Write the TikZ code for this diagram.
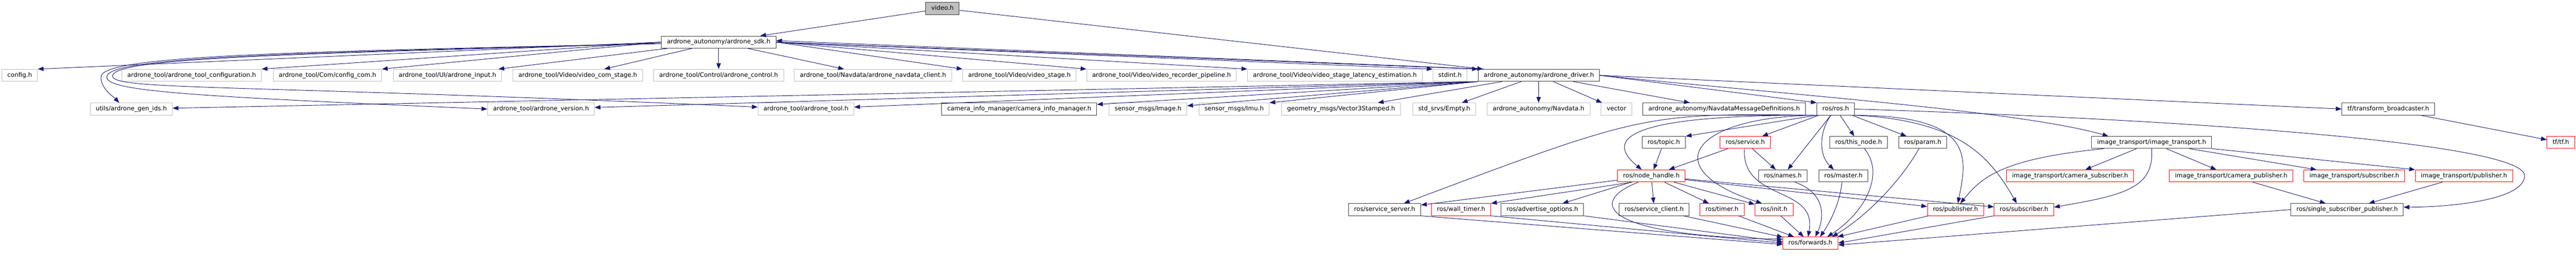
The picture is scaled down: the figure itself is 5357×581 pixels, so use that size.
\documentclass[tikz,border=0pt]{standalone}
\usepackage{fontspec}
\setmainfont{DejaVu Sans}
\usetikzlibrary{arrows.meta}
\definecolor{edgeblue}{HTML}{191970}
\definecolor{extgray}{HTML}{BFBFBF}
\definecolor{docgray}{HTML}{404040}
\begin{document}
\begin{tikzpicture}[x=1pt, y=-1pt,
    every node/.style = {shape=rectangle, draw, line width=1pt, fill=white, inner xsep=11.5pt, inner ysep=0pt,
                         minimum height=25pt, text height=9.5pt, text depth=3pt, font=\fontsize{12.75}{15}\selectfont},
    extfile/.style = {draw=extgray},
    docfile/.style = {draw=docgray},
    cutfile/.style = {draw=red},
    rootfile/.style = {draw=docgray, fill=extgray},
    incl/.style = {draw=edgeblue, line width=1pt, -{Triangle[length=12pt, width=9pt]}}]
    \useasboundingbox (0,0) rectangle (5357,581);

    \node[rootfile] (video) at (1960,17.5) {video.h};
    \node[docfile] (sdk) at (1494.5,87.5) {ardrone\_autonomy/ardrone\_sdk.h};

    \node[extfile] (config) at (41,156.5) {config.h};
    \node[extfile] (toolconf) at (398.5,156.5) {ardrone\_tool/ardrone\_tool\_configuration.h};
    \node[extfile] (configcom) at (681,156.5) {ardrone\_tool/Com/config\_com.h};
    \node[extfile] (uiinput) at (930.5,156.5) {ardrone\_tool/UI/ardrone\_input.h};
    \node[extfile] (comstage) at (1201.5,156.5) {ardrone\_tool/Video/video\_com\_stage.h};
    \node[extfile] (control) at (1494.5,156.5) {ardrone\_tool/Control/ardrone\_control.h};
    \node[extfile] (navclient) at (1815.5,156.5) {ardrone\_tool/Navdata/ardrone\_navdata\_client.h};
    \node[extfile] (vstage) at (2120,156.5) {ardrone\_tool/Video/video\_stage.h};
    \node[extfile] (recpipe) at (2415.5,156.5) {ardrone\_tool/Video/video\_recorder\_pipeline.h};
    \node[extfile] (latency) at (2776,156.5) {ardrone\_tool/Video/video\_stage\_latency\_estimation.h};
    \node[extfile] (stdint) at (3015.5,156.5) {stdint.h};
    \node[docfile] (driver) at (3200,156.5) {ardrone\_autonomy/ardrone\_driver.h};

    \node[extfile] (genids) at (273,226.5) {utils/ardrone\_gen\_ids.h};
    \node[extfile] (version) at (1125,226.5) {ardrone\_tool/ardrone\_version.h};
    \node[extfile] (tool) at (1676,226.5) {ardrone\_tool/ardrone\_tool.h};
    \node[docfile] (caminfo) at (2119.5,226.5) {camera\_info\_manager/camera\_info\_manager.h};
    \node[extfile] (image) at (2387.5,226.5) {sensor\_msgs/Image.h};
    \node[extfile] (imu) at (2566.5,226.5) {sensor\_msgs/Imu.h};
    \node[extfile] (vec3) at (2789,226.5) {geometry\_msgs/Vector3Stamped.h};
    \node[extfile] (empty) at (3003.5,226.5) {std\_srvs/Empty.h};
    \node[extfile] (navdata) at (3199.5,226.5) {ardrone\_autonomy/Navdata.h};
    \node[extfile] (vector) at (3361.5,226.5) {vector};
    \node[docfile] (navmsgdefs) at (3585.5,226.5) {ardrone\_autonomy/NavdataMessageDefinitions.h};
    \node[docfile] (ros) at (3817.5,226.5) {ros/ros.h};
    \node[docfile] (tfbroad) at (4966.5,226.5) {tf/transform\_broadcaster.h};

    \node[docfile] (topic) at (3460,296) {ros/topic.h};
    \node[cutfile] (service) at (3629.5,296) {ros/service.h};
    \node[docfile] (thisnode) at (3865,296) {ros/this\_node.h};
    \node[docfile] (param) at (3998.5,296) {ros/param.h};
    \node[docfile] (itrans) at (4474.5,296) {image\_transport/image\_transport.h};
    \node[cutfile] (tf) at (5325.5,296) {tf/tf.h};

    \node[cutfile] (nodehandle) at (3434,365.5) {ros/node\_handle.h};
    \node[docfile] (names) at (3707.5,365.5) {ros/names.h};
    \node[docfile] (master) at (3833.5,365.5) {ros/master.h};
    \node[cutfile] (camsub) at (4305,365.5) {image\_transport/camera\_subscriber.h};
    \node[cutfile] (campub) at (4640,365.5) {image\_transport/camera\_publisher.h};
    \node[cutfile] (itsub) at (4896,365.5) {image\_transport/subscriber.h};
    \node[cutfile] (itpub) at (5124,365.5) {image\_transport/publisher.h};

    \node[docfile] (srvserver) at (2879.5,435.5) {ros/service\_server.h};
    \node[cutfile] (walltimer) at (3038.5,435.5) {ros/wall\_timer.h};
    \node[docfile] (advopts) at (3207.5,435.5) {ros/advertise\_options.h};
    \node[docfile] (srvclient) at (3440,435.5) {ros/service\_client.h};
    \node[cutfile] (timer) at (3581,435.5) {ros/timer.h};
    \node[cutfile] (init) at (3689,435.5) {ros/init.h};
    \node[cutfile] (publisher) at (4066.5,435.5) {ros/publisher.h};
    \node[cutfile] (subscriber) at (4209,435.5) {ros/subscriber.h};
    \node[docfile] (ssp) at (4881,435.5) {ros/single\_subscriber\_publisher.h};

    \node[cutfile] (forwards) at (3765,505) {ros/forwards.h};

    \draw[incl] (video) -- (sdk);
    \draw[incl] (video) -- (driver);

    \draw[incl] (sdk.west) -- (config.north east);
    \draw[incl] (sdk.west) -- (toolconf.north east);
    \draw[incl] (sdk.west) -- (configcom.north east);
    \draw[incl] (sdk) -- (uiinput);
    \draw[incl] (sdk) -- (comstage);
    \draw[incl] (sdk) -- (control);
    \draw[incl] (sdk) -- (navclient);
    \draw[incl] (sdk.east) -- (vstage.north west);
    \draw[incl] (sdk.east) -- (recpipe.north west);
    \draw[incl] (sdk.east) -- (latency.north west);
    \draw[incl] (sdk.east) -- (stdint.north west);
    \draw[incl] (sdk.east) -- (driver.north west);
    \draw[incl] ([yshift=-3pt]sdk.west) .. controls (600,108) and (210,115) .. (210,160)
        .. controls (210,185) and (235,200) .. ([xshift=-25pt]genids.north);
    \draw[incl] ([yshift=-3pt]sdk.west) .. controls (600,110) and (222,118) .. (222,160)
        .. controls (222,190) and (400,200) .. (version.west);
    \draw[incl] ([yshift=-3pt]sdk.west) .. controls (600,112) and (234,120) .. (234,158)
        .. controls (234,188) and (500,175) .. ([yshift=4pt]tool.west);

    \draw[incl] ([xshift=12pt]driver.north west) -- ([yshift=3pt]sdk.east);
    \draw[incl] (driver.south west) -- (genids);
    \draw[incl] (driver.south west) -- (version);
    \draw[incl] (driver.south west) -- (tool);
    \draw[incl] (driver.south west) -- (caminfo);
    \draw[incl] (driver.south west) -- (image);
    \draw[incl] (driver.south west) -- (imu.north east);
    \draw[incl] (driver) -- (vec3);
    \draw[incl] (driver) -- (empty);
    \draw[incl] (driver) -- (navdata);
    \draw[incl] (driver) -- (vector);
    \draw[incl] (driver) -- (navmsgdefs);
    \draw[incl] (driver.east) -- (ros.north west);
    \draw[incl] (driver.east) .. controls (3700,195) and (4200,230) .. ([xshift=-90pt]itrans.north);
    \draw[incl] (driver.east) -- (tfbroad.west);

    \draw[incl] (ros.south west) -- (topic.north east);
    \draw[incl] (ros.south west) .. controls (3340,238) and (3350,300) .. ([xshift=-20pt]nodehandle.north);
    \draw[incl] (ros.south west) .. controls (3420,235) .. ([xshift=40pt]srvserver.north);
    \draw[incl] (ros) -- (service);
    \draw[incl] (ros) -- (names);
    \draw[incl] ([xshift=-10pt]ros.south) .. controls (3785,270) and (3780,320) .. ([xshift=-20pt]master.north);
    \draw[incl] (ros) -- (thisnode);
    \draw[incl] (ros) -- (param);
    \draw[incl] (ros.south west) .. controls (3520,242) and (3440,350) .. ([xshift=-25pt]init.north);
    \draw[incl] (ros.south east) .. controls (4110,240) and (4090,330) .. ([xshift=5pt]publisher.north);
    \draw[incl] (ros.south east) .. controls (4080,250) and (4140,330) .. ([xshift=-15pt]subscriber.north);
    \draw[incl] (ros.east) .. controls (4600,250) and (5250,300) .. (5250,365)
        .. controls (5250,415) and (5100,430) .. ([yshift=5pt]ssp.east);

    \draw[incl] (topic) -- (nodehandle);
    \draw[incl] (service) -- (nodehandle);
    \draw[incl] (service) -- (names);
    \draw[incl] ([xshift=-2pt]service.south) .. controls (3622,420) and (3780,385) .. ([xshift=-5pt]forwards.north);
    \draw[incl] ([xshift=25pt]names.south) .. controls (3795,400) and (3795,450) .. ([xshift=10pt]forwards.north);
    \draw[incl] ([xshift=-3pt]master.south) .. controls (3825,430) and (3800,470) .. ([xshift=20pt]forwards.north);
    \draw[incl] ([xshift=12pt]thisnode.south) .. controls (3920,360) and (3880,440) .. ([xshift=35pt]forwards.north);
    \draw[incl] ([xshift=-8pt]param.south) .. controls (3950,380) and (3880,450) .. ([xshift=45pt]forwards.north);

    \draw[incl] (nodehandle) -- (srvserver);
    \draw[incl] ([xshift=-40pt]nodehandle.south) -- (walltimer.north east);
    \draw[incl] (nodehandle) -- (advopts);
    \draw[incl] (nodehandle) -- (srvclient);
    \draw[incl] (nodehandle) -- (timer);
    \draw[incl] (nodehandle) -- (init);
    \draw[incl] (nodehandle) -- (publisher);
    \draw[incl] (nodehandle) -- (subscriber);
    \draw[incl] ([xshift=-27pt]nodehandle.south) .. controls (3300,420) and (3330,490) .. ([yshift=8pt]forwards.west);

    \draw[incl] (srvserver.south east) -- ([yshift=-3pt]forwards.west);
    \draw[incl] (walltimer.south east) -- (forwards.west);
    \draw[incl] (advopts.south east) -- ([yshift=3pt]forwards.west);
    \draw[incl] (srvclient) -- (forwards);
    \draw[incl] (timer) -- (forwards);
    \draw[incl] (init) -- (forwards);
    \draw[incl] (publisher) -- (forwards);
    \draw[incl] (subscriber.south west) -- (forwards.east);
    \draw[incl] (ssp.west) -- ([yshift=-4pt]forwards.east);

    \draw[incl] ([xshift=-100pt]itrans.south) .. controls (4160,330) and (4120,370) .. ([xshift=10pt]publisher.north);
    \draw[incl] (itrans) -- (camsub);
    \draw[incl] (itrans) -- (campub);
    \draw[incl] (itrans) -- (itsub);
    \draw[incl] (itrans) -- (itpub.north west);
    \draw[incl] (itrans.south) .. controls (4480,390) and (4420,405) .. ([yshift=5pt]subscriber.east);
    \draw[incl] (campub) -- (ssp);
    \draw[incl] (itpub) -- (ssp);

    \draw[incl] (tfbroad) -- (tf);
\end{tikzpicture}
\end{document}
